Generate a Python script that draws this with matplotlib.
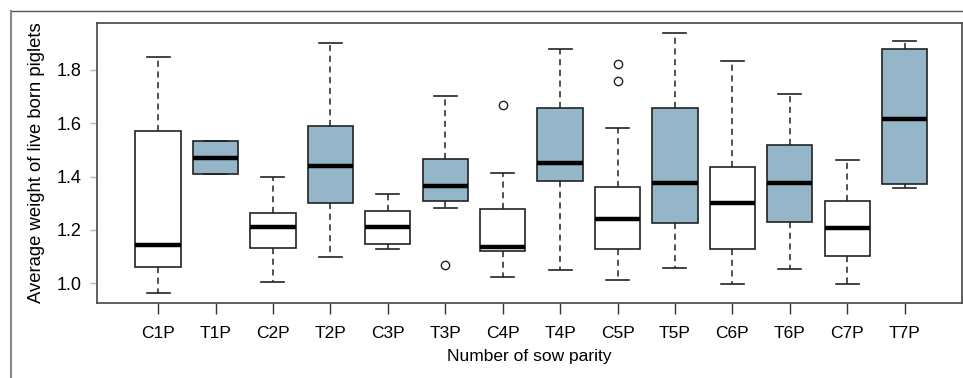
import matplotlib
matplotlib.use("Agg")
import matplotlib.pyplot as plt
from matplotlib.lines import Line2D

plt.rcParams['font.family'] = ['Liberation Sans', 'DejaVu Sans']

# box statistics
groups = ['C1P', 'T1P', 'C2P', 'T2P', 'C3P', 'T3P', 'C4P',
          'T4P', 'C5P', 'T5P', 'C6P', 'T6P', 'C7P', 'T7P']
whis_lo = [0.965, 1.409, 1.006, 1.099, 1.128, 1.284, 1.024,
           1.049, 1.011, 1.058, 0.997, 1.052, 0.997, 1.358]
q1 = [1.061, 1.409, 1.131, 1.301, 1.147, 1.309, 1.122,
      1.382, 1.128, 1.226, 1.128, 1.230, 1.101, 1.371]
median = [1.142, 1.471, 1.210, 1.441, 1.210, 1.366, 1.137,
          1.452, 1.241, 1.375, 1.301, 1.375, 1.208, 1.615]
q3 = [1.572, 1.532, 1.264, 1.589, 1.271, 1.465, 1.280,
      1.656, 1.361, 1.656, 1.437, 1.519, 1.309, 1.879]
whis_hi = [1.850, 1.532, 1.399, 1.900, 1.335, 1.701, 1.415,
           1.879, 1.582, 1.937, 1.834, 1.709, 1.461, 1.907]
outliers = [[], [], [], [], [], [1.067], [1.667],
            [], [1.821, 1.759], [], [], [], [], []]

stats = []
for i, g in enumerate(groups):
    stats.append(dict(label=g, whislo=whis_lo[i], q1=q1[i], med=median[i],
                      q3=q3[i], whishi=whis_hi[i], fliers=outliers[i]))

fig = plt.figure(figsize=(9.63, 3.78), dpi=100)
ax = fig.add_axes([0.1004, 0.1976, 0.8986, 0.7424])

pos = list(range(1, len(groups) + 1))
bp = ax.bxp(stats, positions=pos, widths=0.79, patch_artist=True,
            boxprops=dict(edgecolor='#222222', linewidth=1.2),
            medianprops=dict(color='black', linewidth=3.2, solid_capstyle='butt'),
            whiskerprops=dict(color='#222222', linewidth=1.1, linestyle=(0, (4, 3))),
            capprops=dict(color='#222222', linewidth=1.2),
            capwidths=0.4,
            flierprops=dict(marker='o', markerfacecolor='white',
                            markeredgecolor='#222222', markersize=6, markeredgewidth=1.0))

for patch, g in zip(bp['boxes'], groups):
    patch.set_facecolor('#95b5c8' if g.startswith('T') else 'white')

ax.set_xlim(-0.07, 15.0)
ax.set_ylim(0.925, 1.977)
ax.set_yticks([1.0, 1.2, 1.4, 1.6, 1.8])
ax.set_yticklabels(['1.0', '1.2', '1.4', '1.6', '1.8'])
ax.tick_params(axis='x', length=8, width=1.0, color='#333333', labelsize=12.5, pad=8)
ax.tick_params(axis='y', length=5, width=1.0, color='#bbbbbb', labelsize=13, pad=6)
for s in ax.spines.values():
    s.set_color('#444444')
    s.set_linewidth(1.2)

ax.set_xlabel('Number of sow parity', fontsize=12.5, labelpad=6)
ax.set_ylabel('Average weight of live born piglets', fontsize=13.3, labelpad=8)

# outer frame lines (top and left)
fig.add_artist(Line2D([11 / 963, 1.0], [1 - 11 / 378, 1 - 11 / 378],
                      transform=fig.transFigure, color='#555555', linewidth=1.0))
fig.add_artist(Line2D([11 / 963, 11 / 963], [0.0, 1 - 11 / 378],
                      transform=fig.transFigure, color='#888888', linewidth=1.5))

fig.savefig('out.png', dpi=100)
